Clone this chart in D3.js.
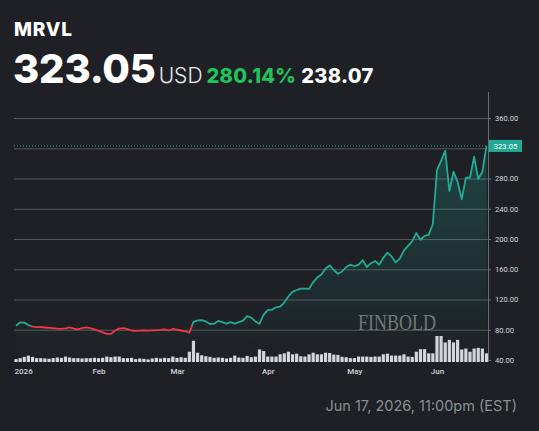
<!DOCTYPE html>
<html>
<head>
<meta charset="utf-8">
<script src="https://cdn.jsdelivr.net/npm/d3@7"></script>
<style>
    body { margin: 0; background: #1e2025; }
    svg { display: block; }
    .tick text { font-family: Roboto, "Noto Sans", sans-serif; }
</style>
</head>
<body>
<div id="viz"></div>
<script>
// Data
const ticker = "MRVL";
const lastPrice = 323.05;
const changePct = 280.14;
const changeAbs = 238.07;
const stamp = "Jun 17, 2026, 11:00pm (EST)";

// one value per trading day, Jan 2 .. Jun 17 2026
const prices = [
    85.3, 89.6, 89.4, 86.3, 84, 83.4, 83.4, 83, 82.5, 82,
    81.5, 81.2, 81.8, 83, 81.5, 80.5, 82, 83, 82, 80.5,
    78.5, 76.5, 74.5, 74.5, 79, 81.5, 82, 81, 79, 78.5,
    78.8, 79, 78.8, 79.2, 79.5, 79.8, 80.6, 79, 81, 80,
    79, 78, 76, 90.5, 92.5, 92.8, 91, 87.6, 88, 91.6,
    90, 88, 90, 88, 90, 92, 98, 96, 91, 88,
    100, 106, 106.5, 109.7, 110.5, 116, 124, 130, 132.5, 134.5,
    134.5, 134, 143, 149, 153, 161, 165, 159, 154, 157,
    163, 166, 164, 166, 172, 163, 168, 171, 166, 175,
    182, 177, 169, 174, 185, 191, 197, 208, 199, 204,
    205.5, 219.8, 291.2, 303.5, 316.8, 263.5, 289, 275.8, 252.5, 281,
    281, 308.8, 279.3, 289, 323.05
];
// daily volume, millions of shares
const volumes = [
    9, 12, 16, 20, 16, 12, 12, 11, 10, 12,
    14, 13, 17, 14, 12, 12, 11, 12, 12, 13,
    12, 13, 17, 15, 17, 17, 12, 12, 13, 9,
    11, 10, 8, 11, 13, 11, 13, 12, 17, 13,
    15, 13, 32, 66, 29, 21, 18, 16, 13, 14,
    13, 11, 13, 20, 14, 13, 19, 15, 17, 39,
    34, 17, 17, 17, 24, 27, 32, 24, 26, 18,
    17, 24, 29, 24, 24, 29, 28, 23, 22, 16,
    15, 12, 12, 17, 17, 17, 16, 17, 17, 24,
    26, 20, 20, 20, 24, 17, 16, 32, 40, 40,
    27, 27, 81, 81, 61, 69, 61, 69, 39, 42,
    32, 42, 44, 42, 27
];
// first trading day of each month (index into prices)
const monthTicks = [0, 20, 39, 61, 82, 102];
const monthLabels = ["2026", "Feb", "Mar", "Apr", "May", "Jun"];
const priceTicks = [40, 80, 120, 160, 200, 240, 280, 320, 360];

const W = 539, H = 431;
const plot = {left: 14, right: 488, top: 92, bottom: 362};
const teal = "#22ab94", red = "#f23645";
const baseline = lastPrice - changeAbs;   // close before the period

const svg = d3.select("#viz").append("svg")
    .attr("width", W)
    .attr("height", H);

svg.append("rect").attr("width", W).attr("height", H).attr("fill", "#1e2025");

// Header
const head = svg.append("g").attr("font-family", "Inter, sans-serif");
head.append("text")
    .attr("x", 14).attr("y", 36)
    .attr("font-size", 19).attr("font-weight", 800)
    .attr("fill", "#ffffff")
    .attr("letter-spacing", 0.8)
    .text(ticker);

const headParts = [
    {text: d3.format(".2f")(lastPrice), size: 40, weight: 800, fill: "#ffffff", ls: -0.2, gap: 3},
    {text: "USD", size: 21, weight: 300, fill: "#e8e8e8", ls: 0, gap: 4},
    {text: changePct.toFixed(2) + "%", size: 20, weight: 800, fill: "#1fc45b", ls: 0.3, gap: 5},
    {text: changeAbs.toFixed(2), size: 20, weight: 800, fill: "#ffffff", ls: 0.3, gap: 0}
];
let hx = 13;
headParts.forEach(p => {
    const t = head.append("text")
        .attr("x", hx).attr("y", 83)
        .attr("font-size", p.size).attr("font-weight", p.weight)
        .attr("fill", p.fill)
        .attr("letter-spacing", p.ls)
        .text(p.text);
    hx += t.node().getComputedTextLength() + p.gap;
});

// Scales
const x = d3.scaleLinear()
    .domain([0, prices.length - 1])
    .range([16, 486.5]);
const y = d3.scaleLinear()
    .domain([40, 360])
    .range([360, 118]);
const yVol = d3.scaleLinear()
    .domain([0, d3.max(volumes)])
    .range([plot.bottom, 336]);

// Grid
svg.append("g")
    .attr("transform", `translate(${plot.right},0)`)
    .call(d3.axisLeft(y)
        .tickValues(priceTicks.filter(d => d > 40))
        .tickSize(plot.right - plot.left)
        .tickFormat(""))
    .call(g => g.select(".domain").remove())
    .call(g => g.selectAll("line").attr("stroke", "#55585e"));

// Watermark
svg.append("text")
    .attr("x", 358).attr("y", 330)
    .attr("font-family", "'Liberation Serif', 'DejaVu Serif', serif")
    .attr("font-size", 24)
    .attr("textLength", 78)
    .attr("lengthAdjust", "spacingAndGlyphs")
    .attr("fill", "#8c8e92")
    .attr("fill-opacity", 0.8)
    .text("FINBOLD");

// Volume
svg.append("g")
    .selectAll("rect")
    .data(volumes)
    .join("rect")
        .attr("x", (d, i) => x(i) - 1.6)
        .attr("width", 3.2)
        .attr("y", d => yVol(d))
        .attr("height", d => yVol(0) - yVol(d))
        .attr("fill", "#d4d6dc");

// Area under price
const defs = svg.append("defs");
const grad = defs.append("linearGradient")
    .attr("id", "areaFill")
    .attr("gradientUnits", "userSpaceOnUse")
    .attr("x1", 0).attr("x2", 0)
    .attr("y1", y(360)).attr("y2", y(40));
grad.append("stop").attr("offset", 0).attr("stop-color", teal).attr("stop-opacity", 0.3);
grad.append("stop").attr("offset", 1).attr("stop-color", teal).attr("stop-opacity", 0);

svg.append("path")
    .datum(prices)
    .attr("fill", "url(#areaFill)")
    .attr("d", d3.area()
        .x((d, i) => x(i))
        .y0(plot.bottom)
        .y1(d => y(d)));

// Price line, teal above the start close and red below it
defs.append("clipPath").attr("id", "above")
    .append("rect")
    .attr("x", 0).attr("y", 0)
    .attr("width", W).attr("height", y(baseline));
defs.append("clipPath").attr("id", "below")
    .append("rect")
    .attr("x", 0).attr("y", y(baseline))
    .attr("width", W).attr("height", H);

const line = d3.line()
    .x((d, i) => x(i))
    .y(d => y(d));

[["above", teal], ["below", red]].forEach(([clip, color]) => {
    svg.append("path")
        .datum(prices)
        .attr("clip-path", `url(#${clip})`)
        .attr("fill", "none")
        .attr("stroke", color)
        .attr("stroke-width", 1.8)
        .attr("stroke-linejoin", "round")
        .attr("d", line);
});

// Last price line
svg.append("line")
    .attr("x1", plot.left).attr("x2", plot.right)
    .attr("y1", y(lastPrice)).attr("y2", y(lastPrice))
    .attr("stroke", teal)
    .attr("stroke-width", 1)
    .attr("stroke-dasharray", "1,2");

// Y axis
const yAxis = svg.append("g")
    .attr("transform", `translate(${plot.right},0)`)
    .call(d3.axisRight(y)
        .tickValues(priceTicks.filter(d => d !== 320))
        .tickSize(3)
        .tickPadding(4)
        .tickFormat(d3.format(".2f")));
yAxis.select(".domain")
    .attr("d", `M0.5,${plot.top}V${plot.bottom}`)
    .attr("stroke", "#6a6d72");
yAxis.selectAll("line").attr("stroke", "#6a6d72");
yAxis.selectAll("text")
    .attr("fill", "#d1d4dc")
    .attr("font-size", 7.6);

// Last price badge
const badge = svg.append("g")
    .attr("transform", `translate(${plot.right + 1},${y(lastPrice)})`);
badge.append("rect")
    .attr("x", 0).attr("y", -6)
    .attr("width", 33).attr("height", 12)
    .attr("fill", teal);
badge.append("text")
    .attr("x", 16.5).attr("y", 0)
    .attr("dy", "0.35em")
    .attr("text-anchor", "middle")
    .attr("font-family", "Roboto, sans-serif")
    .attr("font-size", 7.6)
    .attr("fill", "#ffffff")
    .text(d3.format(".2f")(lastPrice));

// X axis
const xAxis = svg.append("g")
    .attr("transform", `translate(0,${plot.bottom + 3})`)
    .call(d3.axisBottom(x)
        .tickValues(monthTicks)
        .tickSize(0)
        .tickPadding(3)
        .tickFormat((d, i) => monthLabels[i]));
xAxis.select(".domain").remove();
xAxis.selectAll("text")
    .attr("fill", "#d1d4dc")
    .attr("font-size", 8)
    .attr("font-weight", 500);
xAxis.selectAll(".tick").filter(d => d === 0)
    .select("text")
    .attr("text-anchor", "start")
    .attr("x", plot.left - x(0));

// Timestamp
svg.append("text")
    .attr("x", 517).attr("y", 411)
    .attr("text-anchor", "end")
    .attr("font-family", "Inter, sans-serif")
    .attr("font-size", 14.5)
    .attr("fill", "#8b8e94")
    .text(stamp);
</script>
</body>
</html>
